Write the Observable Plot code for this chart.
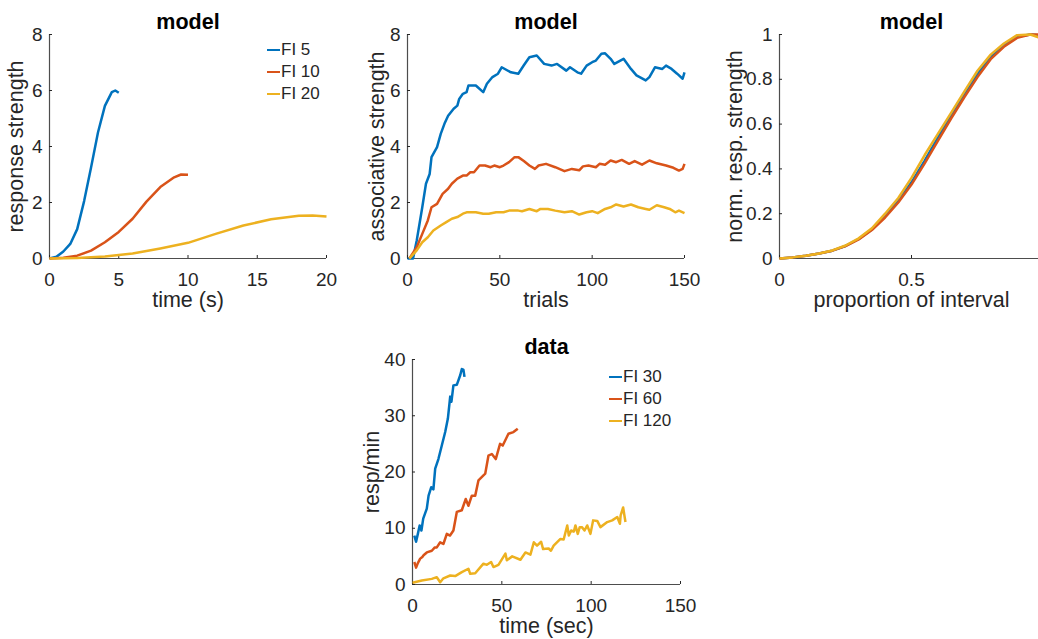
<!DOCTYPE html>
<html>
<head>
<meta charset="utf-8">
<script src="https://cdn.jsdelivr.net/npm/d3@7"></script>
<script src="https://cdn.jsdelivr.net/npm/@observablehq/plot@0.6"></script>
<style>
  html, body { margin: 0; padding: 0; background: #fff; overflow: hidden; }
  #fig { position: relative; width: 1038px; height: 639px; font-family: "Liberation Sans", Arial, sans-serif; color: #262626; }
  .panel { position: absolute; }
  .legend { position: absolute; font-size: 17px; }
  .legend .row { display: flex; align-items: center; height: 22px; white-space: nowrap; }
  .legend .sw { width: 13px; height: 2.5px; margin-right: 1px; }
</style>
</head>
<body>
<div id="fig"></div>
<script>
// Series colours (FI short, medium, long)
const colors = ["#0072BD", "#D95319", "#EDB120"];

// Panel 1 — model: response strength vs time (s)
const modelKeys = ["FI 5", "FI 10", "FI 20"];
const fi5Resp = [[0,0],[0.5,0.06],[1,0.25],[1.5,0.52],[2,1.05],[2.5,2.05],[3,3.25],[3.5,4.5],[4,5.45],[4.5,5.94],[4.75,6.0],[5,5.92]];
const fi10Resp = [[0,0],[1,0.03],[2,0.1],[3,0.28],[4,0.58],[5,0.95],[6,1.42],[7,2.03],[8,2.55],[9,2.9],[9.5,3.0],[10,2.99]];
const fi20Resp = [[0,0],[2,0.02],[4,0.07],[6,0.18],[8,0.36],[10,0.56],[12,0.88],[14,1.18],[16,1.4],[18,1.53],[19,1.54],[20,1.5]];

// Panel 2 — model: associative strength over trials
const fi5Assoc = [[0,0],[3,0],[5,0.64],[8,1.83],[10,2.67],[12,3.02],[13,3.62],[16,3.98],[18,4.45],[20,4.81],[22,5.1],[25,5.35],[27,5.46],[28,5.7],[30,5.88],[32,5.94],[33,6.18],[37,6.18],[41,5.94],[43,6.24],[46,6.48],[49,6.6],[51,6.83],[56,6.65],[60,6.6],[63,6.9],[66,7.19],[70,7.25],[74,6.95],[78,6.89],[81,6.95],[86,6.71],[88,6.83],[92,6.65],[94,6.6],[97,6.89],[100,7.01],[102,7.07],[105,7.31],[107,7.33],[110,7.13],[112,6.95],[117,7.13],[121,6.77],[124,6.54],[129,6.36],[131,6.48],[134,6.83],[138,6.77],[140,6.89],[143,6.77],[146,6.6],[149,6.42],[150,6.65]];
const fi10Assoc = [[1,0],[5,0.4],[8,0.88],[11,1.36],[13,1.83],[16,1.95],[19,2.31],[22,2.49],[24,2.67],[27,2.85],[30,2.96],[32,2.96],[34,3.08],[36,3.08],[39,3.32],[42,3.32],[45,3.26],[47,3.32],[50,3.26],[52,3.32],[55,3.44],[58,3.62],[60,3.62],[63,3.48],[66,3.32],[69,3.2],[71,3.32],[75,3.38],[80,3.26],[85,3.12],[89,3.2],[93,3.15],[95,3.29],[98,3.32],[102,3.26],[104,3.38],[107,3.35],[110,3.5],[113,3.44],[116,3.52],[120,3.38],[123,3.48],[127,3.35],[131,3.5],[135,3.4],[140,3.32],[144,3.24],[147,3.14],[149,3.2],[150,3.38]];
const fi20Assoc = [[1,0],[5,0.29],[8,0.58],[11,0.76],[14,1.0],[18,1.18],[21,1.3],[24,1.42],[27,1.48],[30,1.6],[32,1.65],[37,1.65],[41,1.6],[44,1.6],[48,1.65],[52,1.65],[55,1.71],[60,1.71],[62,1.69],[66,1.77],[70,1.69],[72,1.77],[76,1.77],[80,1.71],[85,1.65],[89,1.69],[93,1.57],[97,1.65],[100,1.69],[103,1.62],[107,1.77],[110,1.83],[113,1.93],[117,1.86],[121,1.93],[125,1.83],[129,1.77],[131,1.74],[135,1.9],[139,1.83],[142,1.77],[145,1.65],[147,1.71],[150,1.62]];

// Panel 3 — model: normalised response strength vs proportion of interval
const proportion = [0,0.05,0.1,0.15,0.2,0.25,0.3,0.35,0.4,0.45,0.5,0.55,0.6,0.65,0.7,0.75,0.8,0.85,0.9,0.95,1.0];
const fi5Norm  = [0,0.005,0.012,0.022,0.035,0.056,0.087,0.13,0.188,0.258,0.34,0.437,0.54,0.64,0.735,0.825,0.9,0.952,0.99,1.0,0.995];
const fi10Norm = [0,0.005,0.012,0.022,0.035,0.055,0.085,0.127,0.183,0.25,0.33,0.425,0.525,0.625,0.72,0.81,0.89,0.945,0.985,1.0,1.0];
const fi20Norm = [0,0.005,0.012,0.022,0.036,0.058,0.09,0.135,0.2,0.27,0.36,0.462,0.556,0.65,0.745,0.838,0.91,0.96,0.997,1.0,0.98];

// Panel 4 — data: response rate (resp/min) vs time (sec)
const dataKeys = ["FI 30", "FI 60", "FI 120"];
const fi30Rate = [[1,8.7],[2,7.6],[3,9],[4,10.5],[5,9.6],[6,11.7],[8,13.5],[9,15.8],[10.5,17.3],[11.7,16.9],[12.7,20.6],[14.5,22.3],[16.4,24.7],[18.3,27.1],[19.8,29.5],[21.1,33.4],[21.8,32.5],[22.9,35.4],[24.8,35.5],[26.7,37.2],[27.6,38.3],[28.5,38.2],[29.1,36.9]];
const fi60Rate = [[1,4],[2,3],[3,3.8],[4.3,4.6],[5.5,4.9],[6.2,5.2],[8,5.7],[10.8,6.0],[12.5,6.6],[13.6,6.6],[15.5,7.5],[17.3,7.2],[19.2,9],[21,8.7],[22.9,9.6],[24.8,12.9],[27.6,13.2],[29.8,15.2],[31.3,14],[33.2,15.8],[35.1,15.8],[36.9,18.5],[40.7,19.7],[42.5,22.9],[44.4,23.2],[46.6,22.3],[49,25],[50.5,24.7],[53.7,26.8],[56.5,27.1],[58.9,27.7]];
const fi120Rate = [[0,0.3],[5.2,0.7],[10.8,1.0],[13.6,1.3],[15.5,0.4],[17.3,1.1],[21.1,1.6],[23.9,1.5],[27.6,2.2],[31.3,2.8],[32.3,1.9],[35.1,2.0],[39.7,3.7],[41.6,3.5],[44,4.0],[45.3,3.1],[48.1,3.5],[52,5.5],[52.8,4.3],[55.8,5.0],[60.4,4.4],[63.2,5.7],[66,5.3],[67.9,7.5],[69.7,6.9],[72,7.6],[73.1,6.3],[76.2,6.4],[77.5,6.0],[79,6.9],[82.8,8.1],[84.6,8.0],[86.6,10.5],[87.5,8.7],[88.8,9.6],[90.3,9.4],[91.2,10.5],[92.5,9.0],[93.6,10.2],[94.8,10.2],[96.3,9.6],[97.8,10.5],[99.6,9.0],[101.1,11.4],[103.4,11.3],[105.2,10.2],[109,11.1],[111.8,11.4],[114.6,12.0],[116.1,10.8],[116.5,12.3],[117.9,13.7],[118.7,12.1],[119.2,11.1]];

// Axis ticks
const ticksTime = [0, 5, 10, 15, 20];
const ticksTrials = [0, 50, 100, 150];
const ticksProp = [0, 0.5];
const ticksSec = [0, 50, 100, 150];
const ticksStrength = [0, 2, 4, 6, 8];
const ticksNorm = [0, 0.2, 0.4, 0.6, 0.8, 1];
const ticksRate = [0, 10, 20, 30, 40];

const FONT = '"Liberation Sans", Arial, sans-serif';
const INK = "#262626";
const AXIS = "#4d4d4d";
const fig = document.getElementById("fig");

function rows(keys, seriesList) {
  return seriesList.flatMap((pts, i) => pts.map(([x, y]) => ({x, y, key: keys[i]})));
}

function panel(o) {
  const [mt, mr, mb, ml] = o.margins;
  const chart = Plot.plot({
    width: o.width, height: o.height,
    marginTop: mt, marginRight: mr, marginBottom: mb, marginLeft: ml,
    style: {fontFamily: FONT, fontSize: "19px", color: INK, background: "transparent", overflow: "visible"},
    x: {domain: o.xDomain},
    y: {domain: o.yDomain},
    color: {domain: o.keys, range: colors},
    marks: [
      Plot.ruleX([o.xDomain[0]], {stroke: AXIS, strokeWidth: 1.2}),
      Plot.ruleY([o.yDomain[0]], {stroke: AXIS, strokeWidth: 1.2}),
      Plot.axisX({ticks: o.xTicks, tickFormat: o.xFormat ?? (d => String(d)), tickSize: -3, tickPadding: 17, label: null, color: INK}),
      Plot.axisY({ticks: o.yTicks, tickFormat: o.yFormat ?? (d => String(d)), tickSize: -3, tickPadding: 10, label: null, color: INK}),
      Plot.line(o.data, {x: "x", y: "y", z: "key", stroke: "key", strokeWidth: 2.5, strokeLinejoin: "round", strokeLinecap: "butt"}),
      Plot.text([o.title], {frameAnchor: "top", dy: -6, lineAnchor: "bottom", fontWeight: "bold", fontSize: 21.5, fill: "#000"}),
      Plot.text([o.xLabel], {frameAnchor: "bottom", dy: 42, lineAnchor: "middle", textAnchor: "middle", fontSize: 21.5, fill: INK}),
      Plot.text([o.yLabel], {frameAnchor: "left", dx: -o.yLabelGap, rotate: -90, lineAnchor: "middle", textAnchor: "middle", fontSize: 21.5, fill: INK})
    ]
  });
  chart.classList.add("panel");
  chart.style.left = o.left + "px";
  chart.style.top = o.top + "px";
  fig.appendChild(chart);
}

function legend(keys, left, top) {
  const box = document.createElement("div");
  box.className = "legend";
  box.style.left = left + "px";
  box.style.top = top + "px";
  keys.forEach((k, i) => {
    const row = document.createElement("div");
    row.className = "row";
    const sw = document.createElement("span");
    sw.className = "sw";
    sw.style.background = colors[i];
    const label = document.createElement("span");
    label.textContent = k;
    row.append(sw, label);
    box.appendChild(row);
  });
  fig.appendChild(box);
}

panel({
  left: 0, top: 0, width: 340, height: 320, margins: [34, 14, 62, 49],
  xDomain: [0, 20], yDomain: [0, 8], xTicks: ticksTime, yTicks: ticksStrength,
  keys: modelKeys, data: rows(modelKeys, [fi5Resp, fi10Resp, fi20Resp]),
  title: "model", xLabel: "time (s)", yLabel: "response strength", yLabelGap: 33
});

panel({
  left: 340, top: 0, width: 360, height: 320, margins: [34, 16, 62, 67],
  xDomain: [0, 150], yDomain: [0, 8], xTicks: ticksTrials, yTicks: ticksStrength,
  keys: modelKeys, data: rows(modelKeys, [fi5Assoc, fi10Assoc, fi20Assoc]),
  title: "model", xLabel: "trials", yLabel: "associative strength", yLabelGap: 30
});

panel({
  left: 700, top: 0, width: 360, height: 320, margins: [34, 17, 62, 79],
  xDomain: [0, 1], yDomain: [0, 1], xTicks: ticksProp, yTicks: ticksNorm,
  keys: modelKeys,
  data: rows(modelKeys, [fi5Norm, fi10Norm, fi20Norm].map(v => proportion.map((p, j) => [p, v[j]]))),
  title: "model", xLabel: "proportion of interval", yLabel: "norm. resp. strength", yLabelGap: 44
});

panel({
  left: 340, top: 320, width: 360, height: 319, margins: [39, 20, 55, 72],
  xDomain: [0, 150], yDomain: [0, 40], xTicks: ticksSec, yTicks: ticksRate,
  keys: dataKeys, data: rows(dataKeys, [fi30Rate, fi60Rate, fi120Rate]),
  title: "data", xLabel: "time (sec)", yLabel: "resp/min", yLabelGap: 40
});

legend(modelKeys, 267, 39);
legend(dataKeys, 609, 366);
</script>
</body>
</html>
